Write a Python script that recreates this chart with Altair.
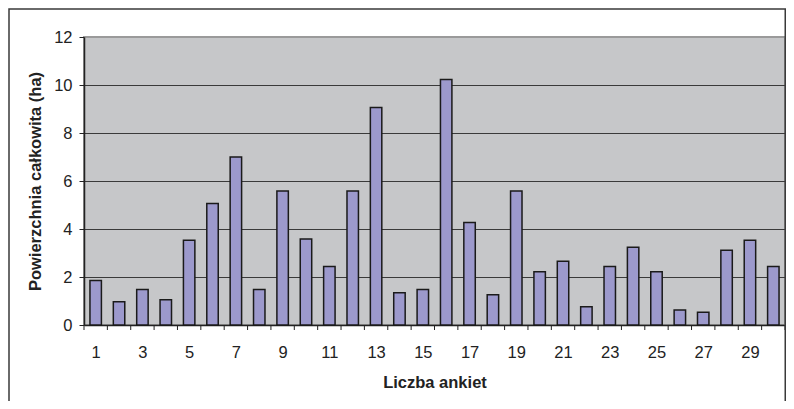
import altair as alt
import pandas as pd

# --- data ---
ankieta = list(range(1, 31))
powierzchnia = [1.85, 0.97, 1.48, 1.05, 3.53, 5.06, 7.00, 1.48, 5.58, 3.58,
                2.44, 5.58, 9.06, 1.34, 1.48, 10.23, 4.27, 1.26, 5.58, 2.22,
                2.66, 0.76, 2.44, 3.24, 2.22, 0.62, 0.53, 3.11, 3.53, 2.44]
y_tick_values = [0, 2, 4, 6, 8, 10, 12]
x_label_values = list(range(1, 30, 2))
x_boundaries = [i + 0.5 for i in range(0, 31)]

df = pd.DataFrame({"n": ankieta, "v": powierzchnia})
df_ticks = pd.DataFrame({"b": x_boundaries})

W, H = 701, 288
PAD_L, PAD_T, PAD_R, PAD_B = 76, 29, 1, 76
FONT = "Liberation Sans"
TXT = "#222222"

xscale = alt.Scale(domain=[0.5, 30.5], nice=False, zero=False)
yscale = alt.Scale(domain=[0, 12], nice=False)

bars = alt.Chart(df).transform_calculate(
    x0="datum.n - 0.245", x1="datum.n + 0.245"
).mark_bar(fill="#9c99cc", stroke="#1a1a1a", strokeWidth=1.5).encode(
    x=alt.X("x0:Q", scale=xscale, axis=alt.Axis(
        values=x_label_values,
        format="d",
        labelOverlap=False,
        labelFlush=False,
        grid=False,
        ticks=False,
        title="Liczba ankiet",
        labelPadding=19,
        titlePadding=14,
    )),
    x2="x1:Q",
    y=alt.Y("v:Q", scale=yscale, axis=alt.Axis(
        values=y_tick_values,
        title="Powierzchnia całkowita (ha)",
        tickSize=5,
        labelPadding=7,
        titlePadding=10,
        grid=True,
        gridColor={"condition": {"test": "datum.value == 12 || datum.value == 0", "value": "#9a9a9a"}, "value": "#3a3a3a"},
        gridWidth=1,
    )),
    y2=alt.datum(0),
)

xticks = alt.Chart(df_ticks).mark_rule(color="#222222", strokeWidth=1).encode(
    x=alt.X("b:Q", scale=xscale),
    y=alt.value(H),
    y2=alt.value(H + 5),
)

frame = alt.Chart(alt.Data(values=[{"f": 1}])).mark_rect(
    filled=False, stroke="#3a3a3a", strokeWidth=1.5
).encode(
    x=alt.value(-PAD_L + 1), x2=alt.value(W + PAD_R - 0.75),
    y=alt.value(-PAD_T + 1), y2=alt.value(H + PAD_B + 10),
)

chart = alt.layer(bars, xticks, frame).properties(
    width=W, height=H,
    autosize=alt.AutoSizeParams(type="none"),
    padding={"left": PAD_L, "top": PAD_T, "right": PAD_R, "bottom": PAD_B},
).configure_view(
    fill="#c6c7c9", stroke="#9a9a9a", strokeWidth=2
).configure_axis(
    labelFont=FONT, titleFont=FONT, labelFontSize=16.5, titleFontSize=16.5,
    labelColor=TXT, titleColor=TXT, titleFontWeight="bold",
    domainColor="#222222", domainWidth=1.5, tickColor="#222222", tickWidth=1,
)

chart.save("out.html", embed_options={"renderer": "svg", "actions": False})
